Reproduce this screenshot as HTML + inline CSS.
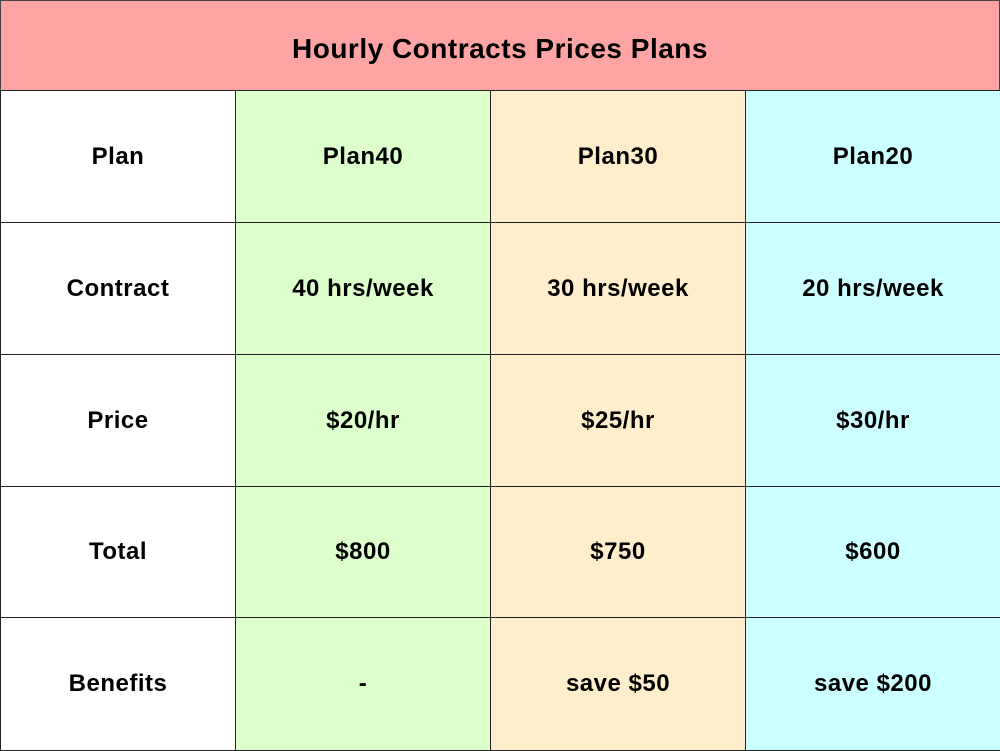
<!DOCTYPE html>
<html><head><meta charset="utf-8"><style>
body{margin:0;width:1000px;height:750px;background:#fff;font-family:"Liberation Sans",sans-serif;font-weight:bold;color:#000;position:relative;overflow:hidden}
.c{position:absolute;box-sizing:border-box;border:1px solid #222;display:flex;align-items:center;justify-content:center;font-size:24px;letter-spacing:0.5px}
</style></head><body>
<div class="c" style="left:0;top:0;width:1000px;height:91px;background:#ffa4a4;font-size:28px;border-color:#444;padding-top:6px">Hourly Contracts Prices Plans</div>
<div id="grid"></div>
<script>
const rowLabels=["Plan","Contract","Price","Total","Benefits"];
const plan40=["Plan40","40 hrs/week","$20/hr","$800","-"];
const plan30=["Plan30","30 hrs/week","$25/hr","$750","save $50"];
const plan20=["Plan20","20 hrs/week","$30/hr","$600","save $200"];
const cols=[rowLabels,plan40,plan30,plan20];
const colNames=["row-label","plan40","plan30","plan20"];
const bgs=["#ffffff","#ddffcc","#ffeecc","#ccffff"];
const xs=[0,235,490,745,1000];
const ys=[90,222,354,486,617,750];
const g=document.getElementById('grid');
cols.forEach((col,ci)=>{col.forEach((t,ri)=>{
 const d=document.createElement('div');
 d.className='c';
 
 
 d.style.left=xs[ci]+'px';d.style.top=ys[ri]+'px';
 d.style.width=(xs[ci+1]-xs[ci]+1)+'px';d.style.height=(ys[ri+1]-ys[ri]+1)+'px';
 d.style.background=bgs[ci];
 d.textContent=t;g.appendChild(d);
});});
</script>
</body></html>
